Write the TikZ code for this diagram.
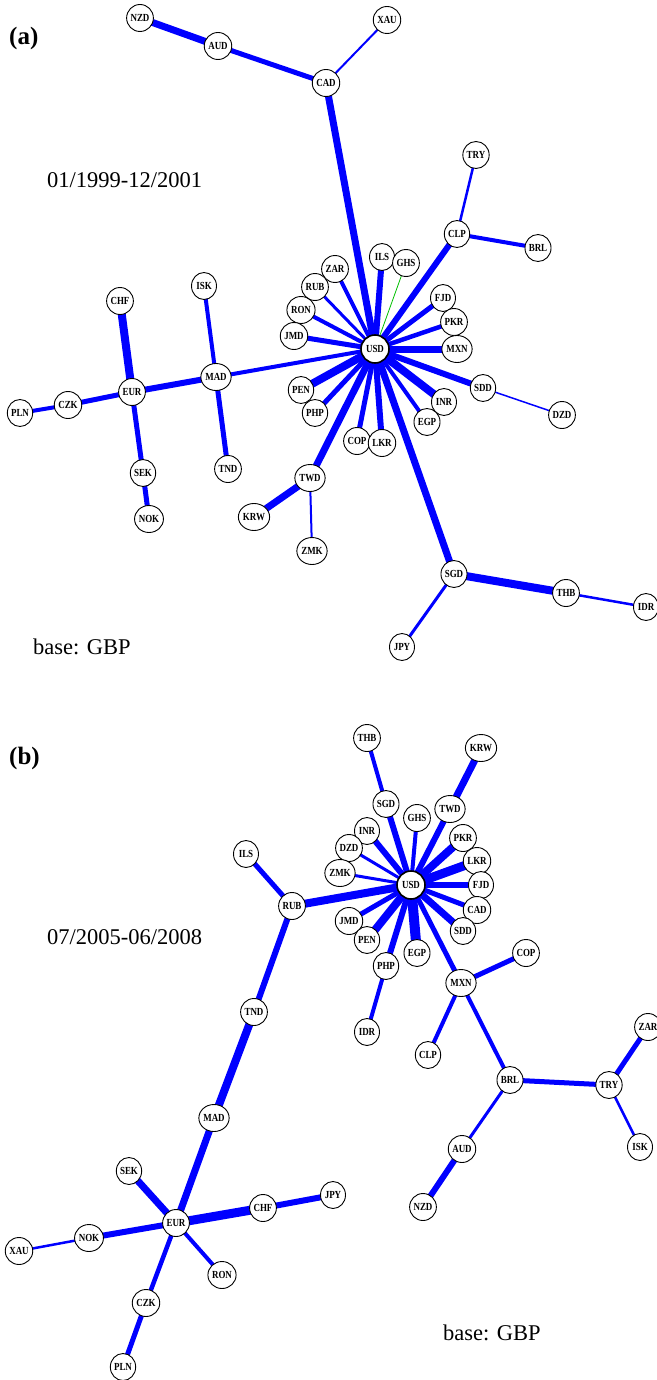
\documentclass[tikz,border=0pt]{standalone}
\usepackage{fontspec}
\setmainfont{Liberation Serif}
\newfontfamily\lblfont[FakeStretch=0.83]{Liberation Serif}
\usetikzlibrary{shapes.geometric,backgrounds}
\begin{document}
\begin{tikzpicture}[x=1pt,y=-1pt,
  cur/.style={ellipse,draw=black,fill=white,line width=0.9pt,
    minimum width=25pt,minimum height=27pt,inner sep=0pt,
    font=\lblfont\fontsize{10.8}{10.8}\selectfont\bfseries},
  hub/.style={cur,line width=1.6pt,minimum width=28pt,minimum height=28pt},
  lnk/.style={draw=blue,line cap=butt},
  weak/.style={draw=green!75!black,line width=0.8pt},
  tag/.style={anchor=west,inner sep=0pt,font=\fontsize{25}{25}\selectfont\bfseries},
  period/.style={anchor=west,inner sep=0pt,font=\fontsize{22.5}{22.5}\selectfont}
]
\useasboundingbox (0,0) rectangle (656,1380);

% ---------------- panel (a): 01/1999-12/2001 ----------------
\node[tag] (tagA) at (9,38) {(a)};
\node[period] (perA) at (47,180) {01/1999-12/2001};
\node[period] (baseA) at (33,647) {base: GBP};

\node[cur] (aNZD) at (140,18) {NZD};
\node[cur] (aAUD) at (218,46) {AUD};
\node[cur] (aXAU) at (387,20) {XAU};
\node[cur] (aCAD) at (326,83) {CAD};
\node[cur] (aTRY) at (476,155) {TRY};
\node[cur] (aCLP) at (457,234) {CLP};
\node[cur] (aBRL) at (538,248) {BRL};
\node[cur] (aILS) at (382,257) {ILS};
\node[cur] (aGHS) at (406,263) {GHS};
\node[cur] (aZAR) at (335,269) {ZAR};
\node[cur] (aRUB) at (315,287) {RUB};
\node[cur] (aRON) at (301,310) {RON};
\node[cur] (aJMD) at (294,336) {JMD};
\node[cur] (aFJD) at (443,298) {FJD};
\node[cur] (aPKR) at (454,322) {PKR};
\node[cur] (aMXN) at (457,349) {MXN};
\node[hub] (aUSD) at (375,349) {USD};
\node[cur] (aCHF) at (120,301) {CHF};
\node[cur] (aISK) at (204,286) {ISK};
\node[cur] (aMAD) at (216,377) {MAD};
\node[cur] (aEUR) at (132,392) {EUR};
\node[cur] (aCZK) at (68,405) {CZK};
\node[cur] (aPLN) at (20,413) {PLN};
\node[cur] (aPEN) at (301,390) {PEN};
\node[cur] (aPHP) at (315,413) {PHP};
\node[cur] (aSDD) at (483,388) {SDD};
\node[cur] (aDZD) at (562,415) {DZD};
\node[cur] (aINR) at (444,402) {INR};
\node[cur] (aEGP) at (427,422) {EGP};
\node[cur] (aCOP) at (357,441) {COP};
\node[cur] (aLKR) at (382,443) {LKR};
\node[cur] (aTND) at (228,469) {TND};
\node[cur] (aSEK) at (143,473) {SEK};
\node[cur] (aNOK) at (149,519) {NOK};
\node[cur] (aTWD) at (310,478) {TWD};
\node[cur] (aKRW) at (254,517) {KRW};
\node[cur] (aZMK) at (312,551) {ZMK};
\node[cur] (aSGD) at (454,574) {SGD};
\node[cur] (aTHB) at (566,593) {THB};
\node[cur] (aIDR) at (646,607) {IDR};
\node[cur] (aJPY) at (402,647) {JPY};

% ---------------- panel (b): 07/2005-06/2008 ----------------
\node[tag] (tagB) at (9,758) {(b)};
\node[period] (perB) at (47,937) {07/2005-06/2008};
\node[period] (baseB) at (443,1333) {base: GBP};

\node[cur] (bTHB) at (367,738) {THB};
\node[cur] (bKRW) at (481,748) {KRW};
\node[cur] (bSGD) at (386,804) {SGD};
\node[cur] (bGHS) at (417,818) {GHS};
\node[cur] (bTWD) at (450,809) {TWD};
\node[cur] (bINR) at (367,831) {INR};
\node[cur] (bPKR) at (463,838) {PKR};
\node[cur] (bDZD) at (349,848) {DZD};
\node[cur] (bLKR) at (477,861) {LKR};
\node[cur] (bILS) at (246,854) {ILS};
\node[cur] (bZMK) at (340,873) {ZMK};
\node[hub] (bUSD) at (411,885) {USD};
\node[cur] (bFJD) at (481,885) {FJD};
\node[cur] (bRUB) at (292,906) {RUB};
\node[cur] (bCAD) at (477,910) {CAD};
\node[cur] (bJMD) at (349,921) {JMD};
\node[cur] (bSDD) at (463,931) {SDD};
\node[cur] (bPEN) at (367,940) {PEN};
\node[cur] (bEGP) at (417,953) {EGP};
\node[cur] (bCOP) at (526,953) {COP};
\node[cur] (bPHP) at (386,966) {PHP};
\node[cur] (bMXN) at (461,983) {MXN};
\node[cur] (bTND) at (254,1012) {TND};
\node[cur] (bIDR) at (367,1032) {IDR};
\node[cur] (bZAR) at (648,1027) {ZAR};
\node[cur] (bCLP) at (428,1055) {CLP};
\node[cur] (bBRL) at (510,1080) {BRL};
\node[cur] (bTRY) at (609,1085) {TRY};
\node[cur] (bMAD) at (214,1118) {MAD};
\node[cur] (bISK) at (640,1147) {ISK};
\node[cur] (bAUD) at (462,1149) {AUD};
\node[cur] (bSEK) at (129,1171) {SEK};
\node[cur] (bJPY) at (333,1195) {JPY};
\node[cur] (bCHF) at (263,1208) {CHF};
\node[cur] (bNZD) at (423,1207) {NZD};
\node[cur] (bEUR) at (176,1223) {EUR};
\node[cur] (bNOK) at (89,1238) {NOK};
\node[cur] (bXAU) at (19,1251) {XAU};
\node[cur] (bRON) at (222,1275) {RON};
\node[cur] (bCZK) at (146,1303) {CZK};
\node[cur] (bPLN) at (123,1367) {PLN};

% ---------------- links, drawn under the nodes ----------------
\begin{scope}[on background layer]
  \foreach \w/\p/\q in {
    7/aNZD/aAUD, 5/aAUD/aCAD, 2/aCAD/aXAU, 7/aCAD/aUSD,
    6/aUSD/aCLP, 2.5/aCLP/aTRY, 4/aCLP/aBRL,
    6/aUSD/aILS, 4/aUSD/aZAR, 3/aUSD/aRUB, 4/aUSD/aRON, 5/aUSD/aJMD,
    5/aUSD/aFJD, 4.5/aUSD/aPKR, 7/aUSD/aMXN, 4/aUSD/aMAD,
    8/aUSD/aPEN, 5/aUSD/aPHP, 7/aUSD/aTWD, 5/aUSD/aCOP, 6/aUSD/aLKR,
    4/aUSD/aEGP, 8/aUSD/aINR, 6/aUSD/aSDD, 7/aUSD/aSGD, 1.5/aSDD/aDZD,
    4/aMAD/aISK, 5/aMAD/aTND, 6/aMAD/aEUR, 8/aEUR/aCHF, 5/aEUR/aCZK,
    4/aCZK/aPLN, 5/aEUR/aSEK, 5/aSEK/aNOK, 7/aTWD/aKRW, 2/aTWD/aZMK,
    8/aSGD/aTHB, 2.5/aTHB/aIDR, 3/aSGD/aJPY,
    4/bTHB/bSGD, 6/bSGD/bUSD, 7/bKRW/bTWD, 6/bTWD/bUSD, 4/bGHS/bUSD,
    6/bINR/bUSD, 3/bDZD/bUSD, 3/bZMK/bUSD, 8/bPKR/bUSD, 9/bLKR/bUSD,
    6/bFJD/bUSD, 5/bCAD/bUSD, 7/bSDD/bUSD, 5/bJMD/bUSD, 8/bPEN/bUSD,
    6/bPHP/bUSD, 10/bEGP/bUSD, 5/bMXN/bUSD, 8/bRUB/bUSD,
    5/bRUB/bILS, 6/bRUB/bTND, 8/bTND/bMAD, 7/bMAD/bEUR, 7/bEUR/bSEK,
    9/bEUR/bCHF, 6/bCHF/bJPY, 6/bEUR/bNOK, 2.5/bNOK/bXAU, 4/bEUR/bRON,
    4.5/bEUR/bCZK, 5/bCZK/bPLN, 4/bPHP/bIDR, 5/bMXN/bCOP, 4/bMXN/bCLP,
    4/bMXN/bBRL, 5/bBRL/bTRY, 3/bBRL/bAUD, 6/bAUD/bNZD, 5/bTRY/bZAR,
    2.5/bTRY/bISK}
    \draw[lnk,line width=\w pt] (\p.center) -- (\q.center);
  \draw[weak] (aUSD.center) -- (aGHS.center);
\end{scope}
\end{tikzpicture}
\end{document}
